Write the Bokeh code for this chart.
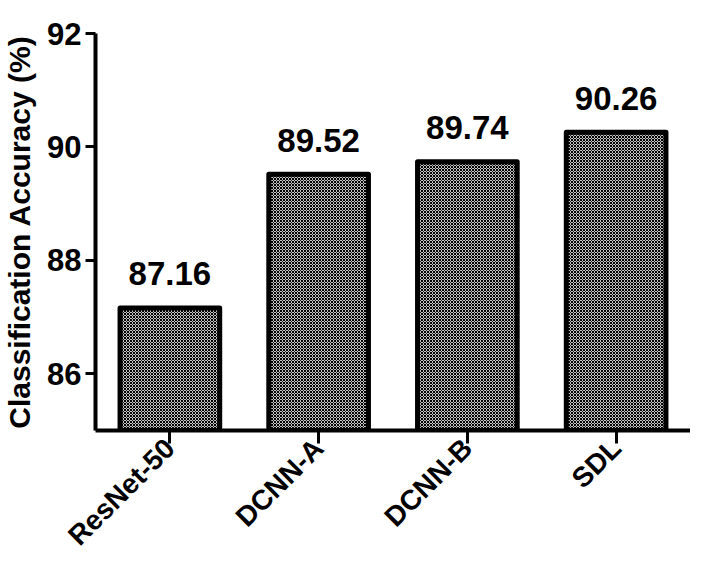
import math
from bokeh.plotting import figure
from bokeh.models import ColumnDataSource, Range1d, FixedTicker
from bokeh.core.properties import value
from bokeh.embed import file_html
from bokeh.resources import INLINE

categories = ["ResNet-50", "DCNN-A", "DCNN-B", "SDL"]
accuracy = [87.16, 89.52, 89.74, 90.26]
labels = ["87.16", "89.52", "89.74", "90.26"]
y_ticks = [86, 88, 90, 92]

FONT = "Liberation Sans"

src = ColumnDataSource(data=dict(cat=categories, acc=accuracy, lab=labels))

p = figure(x_range=categories, y_range=Range1d(85, 92),
           width=690, height=565, output_backend="svg", toolbar_location=None,
           min_border_left=89, min_border_right=0, min_border_top=33, min_border_bottom=100)
p.x_range.range_padding = 0

p.vbar(x="cat", top="acc", bottom=85, width=0.67, source=src,
       fill_color="#c4c4c4", hatch_pattern="x", hatch_scale=3, hatch_weight=1,
       hatch_color="black", line_color="black", line_width=5, line_join="round")

p.text(x="cat", y="acc", text="lab", source=src, y_offset=-34,
       text_align="center", text_baseline="alphabetic",
       text_font=value(FONT), text_font_style="bold", text_font_size="33px",
       text_color="black")

p.outline_line_color = None
p.grid.grid_line_color = None
p.background_fill_color = "white"

p.yaxis.ticker = FixedTicker(ticks=y_ticks)
p.yaxis.minor_tick_line_color = None
p.yaxis.major_tick_in = 0
p.yaxis.major_tick_out = 10
p.yaxis.major_label_standoff = 4
p.yaxis.axis_label = "Classification Accuracy (%)"
p.yaxis.axis_label_standoff = 8

p.xaxis.major_tick_in = 0
p.xaxis.major_tick_out = 13
p.xaxis.major_label_orientation = math.pi / 4
p.xaxis.major_label_standoff = 0

for ax in (p.xaxis, p.yaxis):
    ax.axis_line_width = 4
    ax.axis_line_color = "black"
    ax.major_tick_line_width = 3
    ax.major_tick_line_color = "black"
    ax.major_label_text_font = FONT
    ax.major_label_text_font_style = "bold"
    ax.major_label_text_font_size = "31px"
    ax.major_label_text_color = "black"
    ax.axis_label_text_font = FONT
    ax.axis_label_text_font_style = "bold"
    ax.axis_label_text_font_size = "30px"
    ax.axis_label_text_color = "black"

p.xaxis.major_label_text_font_size = "28px"

open("out.html", "w").write(file_html(p, INLINE))
